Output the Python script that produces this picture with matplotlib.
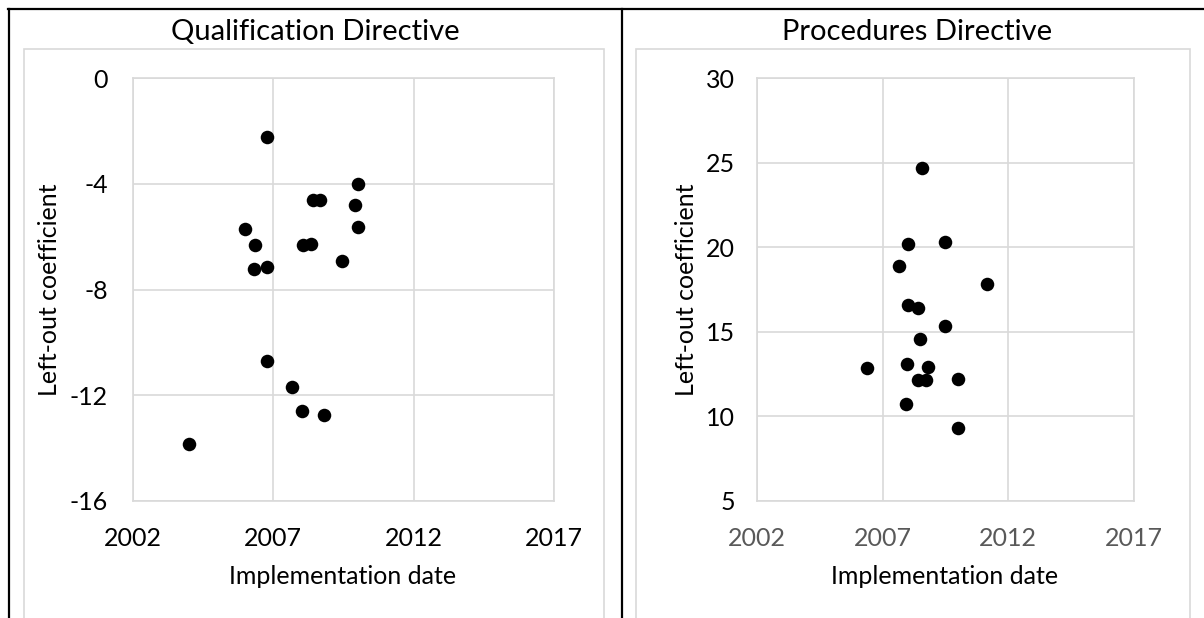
import matplotlib
matplotlib.use("Agg")
import matplotlib.pyplot as plt
from matplotlib.lines import Line2D
from matplotlib.patches import Rectangle

plt.rcParams['font.family'] = ['Lato', 'DejaVu Sans']
plt.rcParams['axes.unicode_minus'] = False

# ---- data ----
qual_years = [2006.79, 2010.01, 2008.40, 2008.68, 2009.92, 2010.01, 2006.00,
              2006.34, 2008.05, 2008.34, 2006.32, 2006.79, 2009.44,
              2006.79, 2007.66, 2008.03, 2008.81, 2003.99]
qual_coef = [-2.25, -4.02, -4.61, -4.61, -4.82, -5.62, -5.71,
             -6.31, -6.31, -6.29, -7.23, -7.16, -6.91,
             -10.71, -11.69, -12.60, -12.73, -13.86]

proc_years = [2008.56, 2008.02, 2009.49, 2007.66, 2011.16, 2007.99, 2008.42,
              2009.49, 2008.50, 2006.36, 2007.95, 2008.80, 2008.41, 2008.73,
              2009.98, 2007.92, 2010.01]
proc_coef = [24.71, 20.20, 20.28, 18.86, 17.83, 16.57, 16.39,
             15.35, 14.56, 12.88, 13.12, 12.94, 12.13, 12.13,
             12.23, 10.71, 9.29]

x_ticks = [2002, 2007, 2012, 2017]
qual_yticks = [-16, -12, -8, -4, 0]
proc_yticks = [5, 10, 15, 20, 25, 30]

titles = ["Qualification Directive", "Procedures Directive"]
xlabel = "Implementation date"
ylabel = "Left-out coefficient"

W, H = 1204, 618
fig = plt.figure(figsize=(W / 100, H / 100), dpi=100)

def fx(px):
    return px / W

def fy(py):
    return 1 - py / H

GRID = "#d9d9d9"

# chart area frames
for x0, x1 in [(23.5, 604), (636, 1190)]:
    fig.add_artist(Rectangle((fx(x0), fy(640)), fx(x1) - fx(x0), fy(48.5) - fy(640),
                             transform=fig.transFigure, fill=False,
                             edgecolor=GRID, linewidth=1.2))

# black table borders
lw_b = 1.6
fig.add_artist(Line2D([fx(8), fx(1204)], [fy(8.5), fy(8.5)], color="black", lw=lw_b,
                      transform=fig.transFigure))
for xb in [9, 621.5]:
    fig.add_artist(Line2D([fx(xb), fx(xb)], [fy(8.5), fy(620)], color="black", lw=lw_b,
                          transform=fig.transFigure))

panels = [
    dict(box=(133, 553.8), years=qual_years, coef=qual_coef, yticks=qual_yticks,
         xtcol="black", title=titles[0], tx=315, lx=343, ylx=50, ypad=18),
    dict(box=(757, 1134), years=proc_years, coef=proc_coef, yticks=proc_yticks,
         xtcol="#595959", title=titles[1], tx=917, lx=945, ylx=686, ypad=16),
]

top, bot = 78, 501
for p in panels:
    x0, x1 = p["box"]
    ax = fig.add_axes([fx(x0), fy(bot), fx(x1) - fx(x0), fy(top) - fy(bot)])
    ax.scatter(p["years"], p["coef"], s=95, color="black", zorder=3, linewidths=0)
    ax.set_xlim(x_ticks[0], x_ticks[-1])
    ax.set_ylim(p["yticks"][0], p["yticks"][-1])
    ax.set_xticks(x_ticks)
    ax.set_yticks(p["yticks"])
    ax.grid(True, color=GRID, linewidth=1.2, zorder=0)
    ax.set_axisbelow(True)
    for s in ax.spines.values():
        s.set_color(GRID)
        s.set_linewidth(1.2)
    ax.tick_params(length=0, labelsize=18)
    ax.tick_params(axis="x", pad=18.5, colors=p["xtcol"])
    ax.tick_params(axis="y", pad=p["ypad"], colors="black")
    ax.set_facecolor("none")
    fig.text(fx(p["tx"]), fy(32), p["title"], ha="center", va="center", fontsize=21)
    fig.text(fx(p["lx"]), fy(577), xlabel, ha="center", va="center", fontsize=18)
    fig.text(fx(p["ylx"]), fy(289.5), ylabel, ha="center", va="center", fontsize=18,
             rotation=90)

fig.savefig("out.png", dpi=100)
